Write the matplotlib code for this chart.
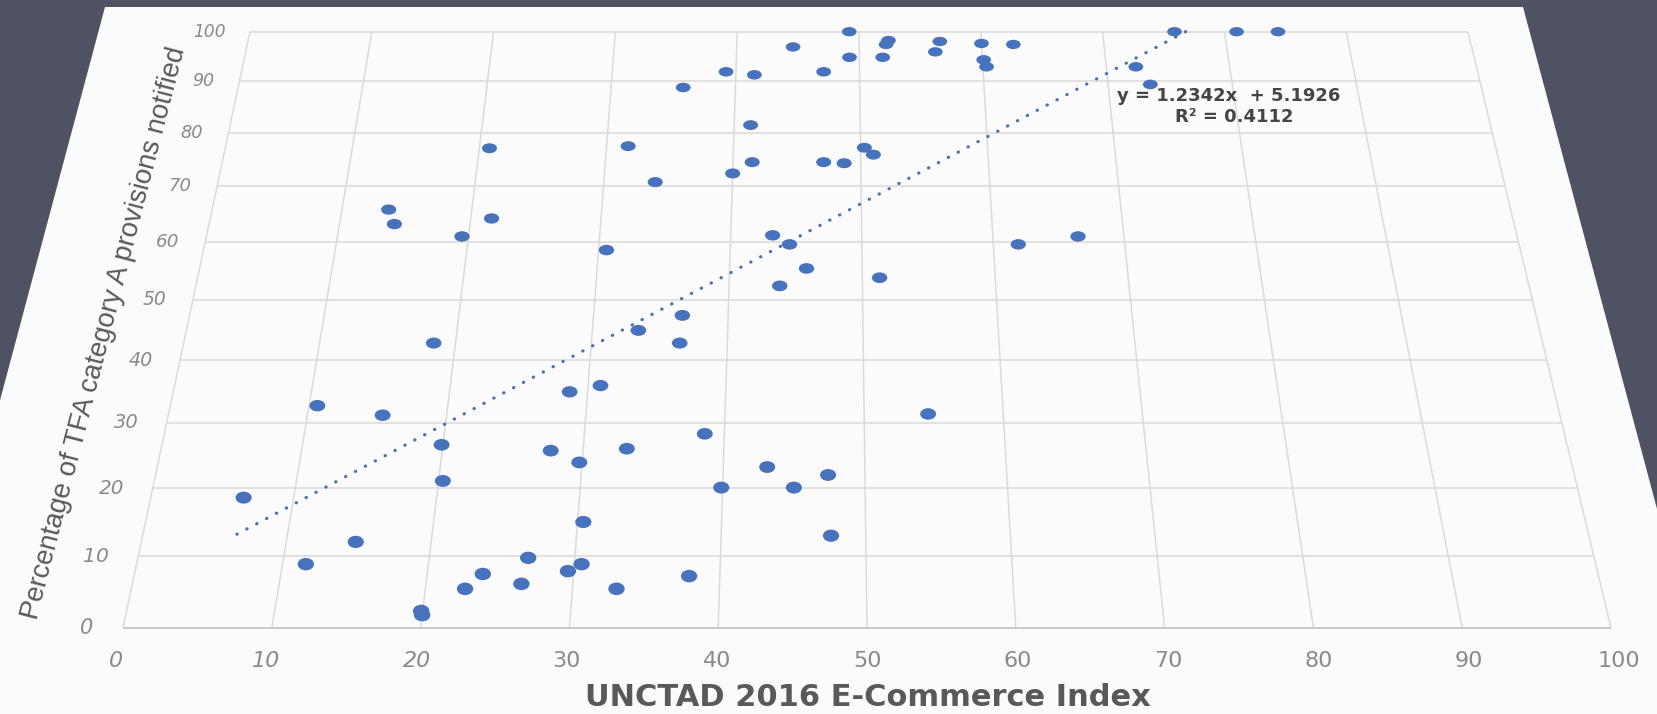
import numpy as np
import matplotlib
matplotlib.use("Agg")
import matplotlib.pyplot as plt
import matplotlib.transforms as mtransforms
from matplotlib.collections import EllipseCollection
from matplotlib.patches import Polygon

# ---------------- data ----------------
ecommerce_index = [20.8, 13.6, 14.2, 21.6, 49.2, 52.4, 52.2, 56.6, 60.0, 62.6,
                   44.6, 56.2, 49.2, 51.9, 60.1, 60.3, 39.2, 41.5, 47.1, 35.8,
                   41.3, 31.7, 50.3, 51.0, 41.5, 47.1, 48.7, 40.0, 34.0, 75.9,
                   81.0, 84.4, 72.4, 73.4, 19.5, 18.4, 10.6, 15.4, 43.2, 44.5,
                   61.9, 66.5, 30.6, 45.8, 51.3, 43.8, 36.6, 33.4, 36.5, 28.7,
                   30.9, 54.6, 38.6, 19.9, 27.7, 20.3, 6.5, 14.8, 11.6, 26.8,
                   23.8, 22.7, 26.5, 19.9, 20.0, 33.1, 29.8, 43.1, 47.4, 39.9,
                   45.0, 30.4, 47.6, 30.5, 29.6, 37.9, 33.0]
tfa_category_a_pct = [77.1, 65.8, 63.2, 64.2, 100.0, 98.2, 97.4, 98.0, 97.6, 97.4,
                      96.9, 95.9, 94.8, 94.8, 94.3, 92.9, 91.9, 91.3, 91.9, 88.8,
                      81.5, 77.5, 77.2, 75.9, 74.5, 74.5, 74.3, 72.4, 70.8, 100.0,
                      100.0, 100.0, 92.9, 89.4, 61.0, 42.8, 32.7, 31.2, 61.2, 59.6,
                      59.6, 61.0, 58.6, 55.4, 53.8, 52.4, 47.4, 44.9, 42.8, 34.9,
                      35.9, 31.4, 28.3, 26.6, 25.7, 21.1, 18.6, 12.1, 8.9, 9.8,
                      7.5, 5.4, 6.1, 2.3, 1.75, 26.0, 23.9, 23.2, 22.0, 20.1,
                      20.1, 15.0, 13.0, 8.9, 7.9, 7.2, 5.4]
x_ticks = [0, 10, 20, 30, 40, 50, 60, 70, 80, 90, 100]
y_ticks = [0, 10, 20, 30, 40, 50, 60, 70, 80, 90, 100]
trend_slope = 1.2342
trend_intercept = 5.1926
r_squared = 0.4112
x_title = "UNCTAD 2016 E-Commerce Index"
y_title = "Percentage of TFA category A provisions notified"

# ---------------- layout (perspective of the tilted slide) ----------------
W_PX, H_PX = 1657, 714
data_corners = [(0, 0), (100, 0), (0, 100), (100, 100)]
pixel_corners = [(123, 627.7), (1611, 627.7), (250, 31.7), (1468, 31.7)]


def homography(src, dst):
    A, b = [], []
    for (x, y), (X, Y) in zip(src, dst):
        A.append([x, y, 1, 0, 0, 0, -X * x, -X * y]); b.append(X)
        A.append([0, 0, 0, x, y, 1, -Y * x, -Y * y]); b.append(Y)
    h = np.linalg.solve(np.array(A, float), np.array(b, float))
    return np.append(h, 1.0).reshape(3, 3)


class Perspective(mtransforms.Transform):
    input_dims = 2
    output_dims = 2
    is_separable = False
    has_inverse = True

    def __init__(self, H):
        super().__init__()
        self.H = np.asarray(H, float)

    def transform_non_affine(self, values):
        v = np.atleast_2d(np.asarray(values, float))
        hv = np.column_stack([v, np.ones(len(v))]) @ self.H.T
        return hv[:, :2] / hv[:, 2:3]

    def inverted(self):
        return Perspective(np.linalg.inv(self.H))


H = homography(data_corners, pixel_corners)


def depth(x, y):
    return H[2, 0] * np.asarray(x) + H[2, 1] * np.asarray(y) + H[2, 2]


fig = plt.figure(figsize=(W_PX / 100, H_PX / 100), dpi=100)
fig.patch.set_facecolor("#4f5263")
ax = fig.add_axes([0, 0, 1, 1])
ax.set_autoscale_on(False)
ax.set_xlim(0, W_PX)
ax.set_ylim(H_PX, 0)
ax.axis("off")

T = Perspective(H) + ax.transData

# white slide panel
panel = Polygon([(105, 7), (1523, 7), (1523 + 0.267 * 900, 907), (105 - 0.267 * 900, 907)],
                closed=True, facecolor="#fbfbfb", edgecolor="none", zorder=0)
ax.add_patch(panel)

# gridlines
grid_c = "#dadada"
for xv in x_ticks:
    ax.plot([xv, xv], [y_ticks[0], y_ticks[-1]], transform=T, color=grid_c, lw=1.1, zorder=1,
            solid_capstyle="butt")
for yv in y_ticks:
    ax.plot([x_ticks[0], x_ticks[-1]], [yv, yv], transform=T,
            color="#c4c4c4" if yv == 0 else grid_c, lw=1.3 if yv == 0 else 1.1, zorder=1,
            solid_capstyle="butt")

# points
xs = np.array(ecommerce_index)
ys = np.array(tfa_category_a_pct)
dw = depth(xs, ys)
widths = 16.5 * dw ** -0.6
heights = 12.8 * dw ** -1.6
ec = EllipseCollection(widths, heights, np.zeros(len(xs)), units="dots",
                       offsets=np.column_stack([xs, ys]), offset_transform=T,
                       facecolors="#4673bb", edgecolors="none", zorder=3)
ax.add_collection(ec, autolim=False)

# linear trendline
tx = np.array([xs.min(), (100 - trend_intercept) / trend_slope])
ty = trend_slope * tx + trend_intercept
ax.plot(tx, ty, transform=T, color="#4a72ad", lw=2.3, linestyle=(0, (0.1, 3.4)),
        dash_capstyle="round", zorder=4)

# tick labels
tick_c = "#8a8a8a"
for yv in y_ticks:
    fs = 15.0 / depth(0, yv)
    ax.text(-2, yv, str(yv), transform=T, ha="right", va="center", fontsize=fs,
            style="italic", color=tick_c, family="DejaVu Sans")
for xv in x_ticks:
    ax.text(xv, -4.5, str(xv), transform=T, ha="center", va="center", fontsize=16,
            style="italic" if xv <= 20 else "normal", color=tick_c, family="DejaVu Sans")

# axis titles
ax.text(868, 697, x_title, ha="center", va="center", fontsize=22,
        fontweight="bold", color="#595959", family="DejaVu Sans")
ax.text(104, 333, y_title, ha="center", va="center", rotation=75.5,
        rotation_mode="anchor", fontsize=19.8, color="#595959", family="Liberation Sans")

# trendline equation
ax.text(1229, 96, f"y = {trend_slope:.4f}x  + {trend_intercept:.4f}", ha="center", va="center",
        fontsize=13, fontweight="bold", color="#454545", family="DejaVu Sans")
ax.text(1234, 117.5, f"R\u00b2 = {r_squared:.4f}", ha="center", va="center",
        fontsize=13, fontweight="bold", color="#454545", family="DejaVu Sans")

fig.savefig("out.png", dpi=100, facecolor=fig.get_facecolor())
